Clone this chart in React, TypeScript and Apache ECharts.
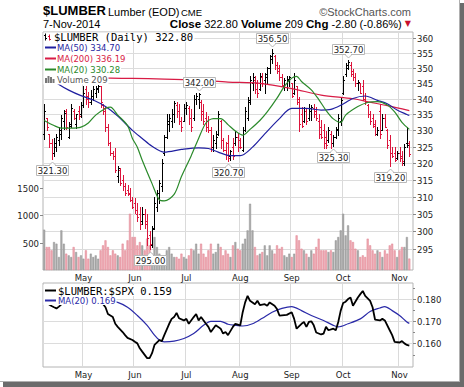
import React, { useEffect, useRef } from 'react';
import * as echarts from 'echarts';

// ---------------- data ----------------
const HOLIDAYS = ['2014-04-18', '2014-05-26', '2014-07-04', '2014-09-01'];
const MONTHS = ['Jan', 'Feb', 'Mar', 'Apr', 'May', 'Jun', 'Jul', 'Aug', 'Sep', 'Oct', 'Nov', 'Dec'];

function tradingDays(start: string, end: string): string[] {
  const out: string[] = [];
  const d = new Date(start + 'T00:00:00Z');
  const e = new Date(end + 'T00:00:00Z');
  while (d <= e) {
    const wd = d.getUTCDay();
    const s = d.toISOString().slice(0, 10);
    if (wd !== 0 && wd !== 6 && HOLIDAYS.indexOf(s) < 0) out.push(s);
    d.setUTCDate(d.getUTCDate() + 1);
  }
  return out;
}
const dates = tradingDays('2014-04-08', '2014-11-07');
const categories = [...dates, ''];

const opens = [
  329, 334, 329, 326, 323, 325, 327, 329, 333, 336,
  328, 332, 336, 332, 336, 335, 338, 343, 341, 339,
  340, 342, 343, 344, 338, 337, 331, 326, 323, 322,
  316, 318, 315, 313, 312, 311, 309, 308, 305, 305,
  303, 305, 303, 299, 296, 301, 307, 311, 313, 323,
  328, 332, 333, 335, 338, 336, 333, 333, 337, 337,
  334, 334, 340, 340, 339, 336, 334, 333, 330, 325,
  326, 329, 333, 327, 324, 326, 322, 325, 326, 328,
  327, 324, 330, 334, 339, 345, 346, 345, 343, 347,
  346, 347, 350, 353, 354, 351, 350, 347, 344, 345,
  346, 345, 342, 344, 340, 335, 333, 336, 334, 336,
  337, 336, 333, 331, 330, 328, 327, 329, 326, 328,
  330, 333, 342, 348, 350, 351, 349, 347, 345, 345,
  344, 340, 338, 335, 334, 332, 329, 336, 330, 334,
  330, 327, 323, 323, 321.5, 323, 322, 320, 326, 326,
];
const highs = [
  338.3, 334, 329, 327.4, 327.5, 329, 331, 334.8, 336.4, 336.7,
  332.5, 338.4, 336.7, 335.2, 337.8, 339, 344, 344, 342.3, 342.9,
  344, 344, 344.5, 344, 338.4, 337.3, 332, 326.5, 323.6, 324.6,
  319, 318.5, 316.3, 313.9, 313.4, 312.5, 310, 309.6, 308, 307,
  307, 306.5, 305, 300, 301.4, 310, 312, 314.9, 321.1, 328.7,
  335, 335.2, 336.7, 339.4, 339, 338.4, 334.2, 338.4, 339, 337.8,
  336.7, 341.2, 341.8, 342, 339.5, 338.4, 335.7, 334.5, 331, 328.6,
  329.8, 336.2, 333.1, 327.5, 326.5, 328.6, 324, 327.5, 329.8, 329.2,
  327.5, 331, 337.3, 340.6, 347.3, 348.5, 347.3, 346.1, 348.5, 348.5,
  348.5, 350.4, 354.5, 356.5, 354.5, 352, 350.9, 347.9, 346.7, 347.3,
  347.3, 345, 348.5, 344, 340.6, 337.3, 337.3, 336.7, 338.4, 338,
  338.4, 337.3, 335.1, 333.1, 332, 329.8, 331, 329.8, 328.6, 331,
  335.1, 340.6, 347.3, 351.8, 352.7, 352, 349.6, 348.5, 346.1, 345,
  346.1, 341.8, 338.4, 336.2, 335.1, 333.1, 331, 338.4, 335.1, 335.1,
  330.5, 328.6, 324.7, 324.7, 323.6, 324.7, 323.6, 325.7, 331, 326.7,
];
const lows = [
  327.3, 330, 325, 321.3, 322, 323.5, 325.4, 327.4, 330.5, 330.3,
  327.5, 331, 333.6, 330.8, 333.6, 334.2, 337.3, 338.4, 337.3, 338.4,
  339.5, 340.6, 342.3, 337.3, 335.1, 329.8, 325.4, 322.4, 321.3, 317.3,
  314.4, 313.4, 312, 310.5, 310.5, 308.6, 306.7, 305.2, 303, 300.7,
  302, 301, 296, 295, 295.5, 300.7, 305.7, 308.2, 311.5, 322.5,
  327.5, 329.8, 331, 332.7, 334.2, 332, 329.8, 332.8, 335.1, 332,
  329.8, 333.1, 338.4, 337, 333.1, 332, 329.8, 329.5, 323.5, 323.5,
  324.6, 328.6, 324.6, 323.5, 321.3, 320.7, 320.8, 321.3, 325.4, 323.5,
  324.6, 323.5, 329.8, 333.1, 338.4, 342.9, 341.8, 340.6, 342.9, 344,
  341.8, 345.2, 348.5, 351.8, 349.6, 348.5, 346.1, 344, 342.9, 342.9,
  344, 340.6, 341.5, 338.4, 329.8, 331, 332.5, 332, 333.1, 333.1,
  334.2, 333.1, 327.5, 327.5, 324.6, 324.6, 326.5, 324.6, 325.3, 327.5,
  328.6, 331.6, 341.5, 347.5, 349.6, 347.3, 346.1, 344, 342.9, 341.8,
  339.5, 338.4, 334.2, 332, 330.9, 328.6, 328.6, 327.5, 330, 330.9,
  324.6, 319.2, 321.8, 320.5, 321.3, 320.5, 319.4, 319.3, 324.7, 322,
];
const closes = [
  336, 331, 326, 323, 326, 328, 330, 334, 335.5, 331,
  331.5, 337, 334, 335, 334.5, 338, 342, 340, 339, 341,
  343, 343.5, 344, 339, 336, 331, 326, 323, 322, 318,
  318.6, 314, 313, 311, 310.7, 309, 307, 306, 304, 302,
  305, 302, 298, 296.5, 300.5, 308, 311, 314, 320, 328,
  333, 334, 335, 338.5, 336, 333, 331, 337, 338, 334,
  331, 340, 341, 341.5, 335, 333, 331, 330, 325, 327,
  328, 335, 327, 324, 322.5, 321.5, 323.5, 322, 328, 325,
  324.7, 330, 336, 339.5, 346, 347, 343, 342, 347.5, 345,
  348, 350, 354, 355, 351, 349, 347, 344.5, 346, 346.5,
  347, 341, 346, 339, 332, 331.5, 336, 333, 337, 337.5,
  335, 334, 329, 328, 326, 325.5, 330, 326, 328, 330.5,
  334, 339.5, 346, 351, 352, 348, 347, 345, 345.5, 342,
  340, 339, 335, 333, 331.5, 329, 330, 329, 334, 331,
  325.5, 323, 322, 321, 323, 321.5, 320.5, 325, 325.6, 322.8,
];
const volumes = [
  738, 421, 421, 360, 512, 482, 238, 726, 482, 299,
  268, 238, 421, 329, 238, 268, 207, 360, 207, 299,
  238, 268, 207, 360, 451, 543, 421, 268, 360, 299,
  268, 238, 482, 360, 543, 1031, 604, 604, 451, 512,
  451, 360, 575, 451, 299, 604, 421, 299, 268, 207,
  360, 421, 299, 238, 238, 207, 299, 238, 207, 268,
  390, 360, 482, 299, 482, 299, 238, 360, 482, 299,
  329, 482, 421, 268, 360, 299, 238, 451, 512, 390,
  360, 482, 573, 726, 1214, 726, 421, 268, 299, 329,
  451, 268, 451, 360, 299, 451, 390, 421, 268, 238,
  299, 238, 299, 634, 543, 390, 360, 299, 238, 360,
  299, 421, 573, 360, 360, 360, 329, 360, 329, 543,
  604, 726, 1031, 634, 817, 543, 512, 390, 360, 238,
  268, 238, 573, 451, 360, 299, 360, 329, 238, 360,
  299, 451, 482, 360, 238, 360, 421, 421, 604, 209,
];

// moving averages: [bar index, value]
const ma50 = [
  [0, 348.2], [3, 346.6], [6, 344.6], [10, 342.8], [15, 341], [20, 339.6], [25, 337.5], [30, 334.5], [36, 330],
  [40, 327.5], [44, 325.1], [49, 323.3], [56, 324.1], [63, 324.6], [67, 324.4], [71, 323.3],
  [75, 322.3], [80, 322.2], [85, 324.8], [90, 328.9], [96, 333.7], [101, 336.9], [107, 336.9],
  [113, 336.4], [117, 336.6], [121, 337.9], [126, 340.1], [131, 340.9], [136, 339.5], [140, 338.4],
  [144, 336.4], [148, 335], [149, 334.7],
];
const ma200 = [
  [0, 347.2], [10, 347], [20, 346.8], [27, 346.7], [36, 346.6], [49, 346.4], [63, 346], [75, 345.4],
  [88, 345], [101, 343.3], [113, 341.2], [126, 340], [133, 338.9], [140, 337.8], [149, 336.2],
];
const ma20 = [
  [0, 333.1], [4, 331.5], [7, 330.7], [11, 330.7], [15, 331], [18, 332.3], [21, 334.8], [25, 336.9],
  [27, 337.3], [30, 334.8], [34, 331.5], [36, 327.5], [38, 324.8], [40, 320.8], [44, 313.8], [47, 309],
  [49, 308.7], [53, 310.6], [56, 315.9], [60, 322.2], [63, 327.5], [66, 332.3], [69, 333.7], [72, 333.7],
  [75, 331.8], [78, 329.8], [81, 328.5], [84, 330.3], [88, 333.1], [91, 335.8], [95, 340.2], [98, 344],
  [101, 346.7], [103, 347.3], [105, 345.6], [109, 342.9], [112, 339.8], [115, 336.3], [118, 333.6],
  [121, 332.5], [123, 334.8], [128, 337.5], [132, 338.8], [136, 339.1], [140, 338], [143, 335.8],
  [146, 332.5], [149, 330.3],
];
const ratio = [
  [0, 0.1785], [2, 0.1775], [3, 0.1768], [4, 0.1762], [5, 0.1757], [6, 0.1765], [8, 0.1785],
  [11, 0.179], [14, 0.1805], [17, 0.182], [20, 0.1815], [23, 0.179], [25, 0.1762], [26, 0.1732],
  [28, 0.1718], [29, 0.1688], [30, 0.1674], [32, 0.1651], [33, 0.1637], [34, 0.1625], [36, 0.1615],
  [37, 0.1607], [38, 0.16], [39, 0.1578], [40, 0.1563], [42, 0.1534], [43, 0.1534], [44, 0.1556],
  [45, 0.1593], [47, 0.1615], [48, 0.161], [49, 0.1637], [51, 0.1688], [52, 0.171], [53, 0.1718],
  [54, 0.1737], [55, 0.1713], [57, 0.1703], [58, 0.171], [59, 0.1688], [61, 0.1718], [62, 0.1732],
  [63, 0.1703], [64, 0.1718], [66, 0.1688], [67, 0.1674], [68, 0.1651], [70, 0.1681], [71, 0.1674],
  [72, 0.1666], [73, 0.1644], [74, 0.1651], [75, 0.1637], [77, 0.1674], [78, 0.1688], [80, 0.1681],
  [81, 0.174], [82, 0.1784], [83, 0.1813], [84, 0.1791], [86, 0.1776], [87, 0.1791], [88, 0.1772],
  [90, 0.1776], [91, 0.1769], [92, 0.1784], [94, 0.1769], [95, 0.1754], [96, 0.1725], [99, 0.1728],
  [101, 0.174], [102, 0.171], [103, 0.1666], [105, 0.1688], [106, 0.1696], [107, 0.1674], [108, 0.1696],
  [109, 0.1699], [110, 0.1681], [111, 0.1649], [113, 0.164], [114, 0.1644], [115, 0.1674], [116, 0.1659],
  [118, 0.1666], [119, 0.1659], [120, 0.1696], [121, 0.1747], [122, 0.1781], [123, 0.1787], [124, 0.1799],
  [125, 0.1806], [126, 0.1769], [128, 0.1806], [129, 0.1821], [130, 0.1835], [131, 0.1813], [133, 0.1791],
  [134, 0.1762], [135, 0.1707], [137, 0.1703], [138, 0.171], [139, 0.1703], [141, 0.1659], [142, 0.1637],
  [143, 0.1607], [145, 0.1604], [146, 0.161], [147, 0.16], [148, 0.1593], [149, 0.159],
];
const ratioMa20 = [
  [0, 0.179], [10, 0.1795], [20, 0.1793], [26, 0.179], [30, 0.1784], [34, 0.1762], [38, 0.1725],
  [42, 0.1681], [45, 0.1637], [47, 0.1615], [49, 0.1607], [53, 0.161], [57, 0.1622], [61, 0.1644],
  [65, 0.1681], [68, 0.1699], [72, 0.1699], [75, 0.1686], [78, 0.1681], [81, 0.1678], [85, 0.1688],
  [89, 0.1713], [93, 0.174], [97, 0.1757], [101, 0.1765], [105, 0.1747], [109, 0.1725], [114, 0.1703],
  [118, 0.1681], [120, 0.1674], [124, 0.1688], [129, 0.171], [133, 0.1743], [137, 0.1759], [139, 0.1765],
  [142, 0.1747], [145, 0.1725], [148, 0.1696], [149, 0.169],
];

const priceTicks = [295, 300, 305, 310, 315, 320, 325, 330, 335, 340, 345, 350, 355, 360];
const volumeTicks = [500, 1000, 1500];
const ratioTicks = [0.155, 0.16, 0.165, 0.17, 0.175, 0.18, 0.185];
const ratioLabelTicks = [0.16, 0.17, 0.18];
const annotations: [number, string][] = [
  [3, 'low'], [43, 'low'], [63, 'high'], [75, 'low'], [93, 'high'], [118, 'low'], [124, 'high'], [141, 'low'],
];

// ---------------- style ----------------
const UP = '#000000';
const DOWN = '#dc143c';
const C_MA50 = '#1f1fa0';
const C_MA200 = '#d81b45';
const C_MA20 = '#2b8a2b';
const C_RMA = '#2a2aa8';
const SANS = '"DejaVu Sans"';
const MONO = '"DejaVu Sans Mono"';
const ARIAL = '"Liberation Sans"';

const isUp = (i: number) => i === 0 || closes[i] >= closes[i - 1];
const isMonthStart = (idx: number) =>
  idx > 0 && idx < dates.length && dates[idx].slice(5, 7) !== dates[idx - 1].slice(5, 7);

function ts(text: string, x: number, y: number, font: string, fill: string, align = 'left') {
  return {
    text, x, y, font, fill,
    align, verticalAlign: 'middle', textAlign: align, textVerticalAlign: 'middle',
  };
}

function mkX(gi: number) {
  return {
    type: 'category', gridIndex: gi, data: categories, boundaryGap: true,
    axisLine: { show: false }, axisTick: { show: false },
    axisLabel: {
      interval: (idx: number) => isMonthStart(idx),
      formatter: (v: string) => (v ? MONTHS[+v.slice(5, 7) - 1] : ''),
      margin: 3, fontFamily: SANS, fontSize: 8.5, color: '#222',
    },
    splitLine: {
      show: true, interval: (idx: number) => isMonthStart(idx),
      lineStyle: { color: '#dadada', width: 1 },
    },
  };
}

function legendRow(y: number, right: number, dashColor: string, text: string, color: string) {
  return [
    { type: 'rect', z: 100, shape: { x: 43.5, y: y - 5.5, width: right - 43.5, height: 11 }, style: { fill: '#fff' } },
    { type: 'line', z: 101, shape: { x1: 45, y1: y, x2: 56, y2: y }, style: { stroke: dashColor, lineWidth: 2 } },
    { type: 'text', z: 101, style: ts(text, 57, y, `8.5px ${SANS}`, color) },
  ];
}

function buildOption(): any {
  const gridStyle = { show: true, borderColor: '#b4b4b4', borderWidth: 1 };
  const ohlcData = closes.map((c, i) => [i, opens[i], c, lows[i], highs[i]]);
  const annData = annotations.map(([i, k]) => [i, k === 'high' ? highs[i] : lows[i], k === 'high' ? 0 : 1]);

  const graphic: any[] = [
    // frame shadow
    { type: 'rect', z: 0, shape: { x: 460, y: 3, width: 4, height: 383 }, style: { fill: '#6b6b6b' } },
    { type: 'rect', z: 0, shape: { x: 3, y: 382, width: 461, height: 5 }, style: { fill: '#6b6b6b' } },
    { type: 'line', z: 0, shape: { x1: 459.5, y1: 0, x2: 459.5, y2: 382 }, style: { stroke: '#b0b0b0', lineWidth: 1 } },
    { type: 'line', z: 0, shape: { x1: 0, y1: 381.5, x2: 460, y2: 381.5 }, style: { stroke: '#b0b0b0', lineWidth: 1 } },
    // header
    { type: 'text', z: 100, style: ts('$LUMBER', 43, 10.5, `bold 13px ${ARIAL}`, '#000') },
    { type: 'text', z: 100, style: ts('Lumber (EOD)', 108, 11.5, `11px ${ARIAL}`, '#000') },
    { type: 'text', z: 100, style: ts('CME', 181, 12, `9.5px ${ARIAL}`, '#000') },
    { type: 'text', z: 100, style: ts('\u00A9StockCharts.com', 411, 11.5, `11px ${ARIAL}`, '#555', 'right') },
    { type: 'text', z: 100, style: ts('7-Nov-2014', 43, 23.5, `11px ${ARIAL}`, '#000') },
    {
      type: 'text', z: 100,
      style: {
        ...ts('{b|Close} 322.80 {b|Volume} 209 {b|Chg} -2.80 (-0.86%) {t|\u25BC}', 411, 23.5, `11px ${ARIAL}`, '#000', 'right'),
        rich: {
          b: { font: `bold 11.5px ${ARIAL}`, fill: '#000' },
          t: { font: `8px ${SANS}`, fill: '#c8102e' },
        },
      },
    },
    // main legend row 1
    { type: 'rect', z: 100, shape: { x: 43.5, y: 32.5, width: 151, height: 9.5 }, style: { fill: '#fff' } },
    { type: 'line', z: 101, shape: { x1: 45.5, y1: 33.5, x2: 45.5, y2: 40.5 }, style: { stroke: UP, lineWidth: 1 } },
    { type: 'line', z: 101, shape: { x1: 44, y1: 35.5, x2: 45.5, y2: 35.5 }, style: { stroke: UP, lineWidth: 1 } },
    { type: 'line', z: 101, shape: { x1: 45.5, y1: 38.5, x2: 47, y2: 38.5 }, style: { stroke: UP, lineWidth: 1 } },
    { type: 'line', z: 101, shape: { x1: 49.5, y1: 34.5, x2: 49.5, y2: 40.5 }, style: { stroke: DOWN, lineWidth: 1 } },
    { type: 'line', z: 101, shape: { x1: 48, y1: 36.5, x2: 49.5, y2: 36.5 }, style: { stroke: DOWN, lineWidth: 1 } },
    { type: 'line', z: 101, shape: { x1: 49.5, y1: 39.5, x2: 51, y2: 39.5 }, style: { stroke: DOWN, lineWidth: 1 } },
    { type: 'text', z: 101, style: ts('$LUMBER (Daily) 322.80', 54, 37, `10.5px ${MONO}`, '#000') },
    ...legendRow(47.5, 121, C_MA50, 'MA(50) 334.70', C_MA50),
    ...legendRow(58.5, 126, C_MA200, 'MA(200) 336.19', C_MA200),
    ...legendRow(69.5, 121, C_MA20, 'MA(20) 330.28', C_MA20),
    { type: 'rect', z: 100, shape: { x: 43.5, y: 75, width: 65, height: 9.5 }, style: { fill: '#fff' } },
    { type: 'rect', z: 101, shape: { x: 45, y: 78, width: 2, height: 5 }, style: { fill: '#777' } },
    { type: 'rect', z: 101, shape: { x: 47.5, y: 76, width: 2, height: 7 }, style: { fill: '#777' } },
    { type: 'rect', z: 101, shape: { x: 50, y: 77, width: 2, height: 6 }, style: { fill: '#777' } },
    { type: 'rect', z: 101, shape: { x: 52.5, y: 79, width: 2, height: 4 }, style: { fill: '#777' } },
    { type: 'text', z: 101, style: ts('Volume 209', 57, 79.5, `8.5px ${SANS}`, '#555') },
    // lower legend
    { type: 'rect', z: 100, shape: { x: 43.5, y: 285, width: 133, height: 11 }, style: { fill: '#fff' } },
    { type: 'line', z: 101, shape: { x1: 45, y1: 290.5, x2: 56, y2: 290.5 }, style: { stroke: '#000', lineWidth: 2 } },
    { type: 'text', z: 101, style: ts('$LUMBER:$SPX 0.159', 58, 291, `10.5px ${MONO}`, '#000') },
    { type: 'rect', z: 100, shape: { x: 43.5, y: 296, width: 73, height: 9 }, style: { fill: '#fff' } },
    { type: 'line', z: 101, shape: { x1: 45, y1: 300.5, x2: 56, y2: 300.5 }, style: { stroke: C_RMA, lineWidth: 2 } },
    { type: 'text', z: 101, style: ts('MA(20) 0.169', 58, 300.5, `8.5px ${SANS}`, C_RMA) },
  ];

  return {
    animation: false,
    backgroundColor: '#fff',
    grid: [
      { left: 43, top: 32, width: 370, height: 238, ...gridStyle },
      { left: 43, top: 283, width: 370, height: 84, ...gridStyle },
    ],
    xAxis: [mkX(0), mkX(1)],
    yAxis: [
      { type: 'log', gridIndex: 0, min: 289.2, max: 362.15, show: false },
      { type: 'value', gridIndex: 0, min: 0, max: 4360, show: false },
      { type: 'value', gridIndex: 1, min: 0.1494, max: 0.1871, show: false },
    ],
    graphic: { elements: graphic },
    series: [
      {
        type: 'custom', name: 'priceScale', xAxisIndex: 0, yAxisIndex: 0, z: 1, silent: true,
        data: priceTicks.map((v) => [0, v]), encode: { x: 0, y: 1 },
        renderItem: (params: any, api: any) => {
          const cs = params.coordSys;
          const v = api.value(1);
          const y = Math.round(api.coord([0, v])[1]) + 0.5;
          const r = cs.x + cs.width;
          return {
            type: 'group', children: [
              { type: 'line', shape: { x1: cs.x, y1: y, x2: r, y2: y }, style: { stroke: '#dcdcdc', lineWidth: 1 } },
              { type: 'line', shape: { x1: r, y1: y, x2: r + 3, y2: y }, style: { stroke: '#888', lineWidth: 1 } },
              { type: 'text', style: ts(String(v), r + 4, y, `8.5px ${SANS}`, '#222') },
            ],
          };
        },
      },
      {
        type: 'custom', name: 'volumeScale', xAxisIndex: 0, yAxisIndex: 1, z: 1, silent: true,
        data: volumeTicks.map((v) => [0, v]), encode: { x: 0, y: 1 },
        renderItem: (params: any, api: any) => {
          const cs = params.coordSys;
          const v = api.value(1);
          const y = Math.round(api.coord([0, v])[1]) + 0.5;
          return {
            type: 'group', children: [
              { type: 'line', shape: { x1: cs.x - 3, y1: y, x2: cs.x, y2: y }, style: { stroke: '#888', lineWidth: 1 } },
              { type: 'text', style: ts(String(v), cs.x - 4, y, `8.5px ${SANS}`, '#222', 'right') },
            ],
          };
        },
      },
      {
        type: 'bar', name: 'Volume', xAxisIndex: 0, yAxisIndex: 1, z: 2, barWidth: 2, silent: true,
        data: volumes.map((v, i) => ({
          value: v,
          itemStyle: isUp(i)
            ? { color: '#ababab', borderColor: '#8c8c8c', borderWidth: 0.4 }
            : { color: '#efaab4', borderColor: '#dc7483', borderWidth: 0.4 },
        })),
      },
      {
        type: 'custom', name: '$LUMBER', xAxisIndex: 0, yAxisIndex: 0, z: 3, silent: true,
        data: ohlcData, encode: { x: 0, y: [1, 2, 3, 4] },
        renderItem: (params: any, api: any) => {
          const i = api.value(0);
          const o = api.coord([i, api.value(1)]);
          const c = api.coord([i, api.value(2)]);
          const l = api.coord([i, api.value(3)]);
          const h = api.coord([i, api.value(4)]);
          const x = Math.round(h[0]) + 0.5;
          const color = isUp(i) ? UP : DOWN;
          const st = { stroke: color, lineWidth: 1 };
          const oy = Math.round(o[1]) + 0.5;
          const cy = Math.round(c[1]) + 0.5;
          return {
            type: 'group', children: [
              { type: 'line', shape: { x1: x, y1: Math.round(h[1]), x2: x, y2: Math.round(l[1]) + 1 }, style: st },
              { type: 'line', shape: { x1: x - 1.5, y1: oy, x2: x, y2: oy }, style: st },
              { type: 'line', shape: { x1: x, y1: cy, x2: x + 1.5, y2: cy }, style: st },
            ],
          };
        },
      },
      {
        type: 'line', name: 'MA(200)', xAxisIndex: 0, yAxisIndex: 0, z: 4, data: ma200, showSymbol: false,
        smooth: 0.3, lineStyle: { color: C_MA200, width: 1.2 }, silent: true,
      },
      {
        type: 'line', name: 'MA(50)', xAxisIndex: 0, yAxisIndex: 0, z: 4, data: ma50, showSymbol: false,
        smooth: 0.3, lineStyle: { color: C_MA50, width: 1.2 }, silent: true,
      },
      {
        type: 'line', name: 'MA(20)', xAxisIndex: 0, yAxisIndex: 0, z: 4, data: ma20, showSymbol: false,
        smooth: 0.3, lineStyle: { color: C_MA20, width: 1.2 }, silent: true,
      },
      {
        type: 'custom', name: 'annotations', xAxisIndex: 0, yAxisIndex: 0, z: 10, silent: true,
        data: annData, encode: { x: 0, y: 1 },
        renderItem: (params: any, api: any) => {
          const i = api.value(0);
          const v = api.value(1);
          const below = api.value(2) === 1;
          const p = api.coord([i, v]);
          const cx = Math.round(p[0]) + 0.5;
          const w = 32;
          const hh = 10;
          const top = below ? Math.round(p[1] + 6) + 0.5 : Math.round(p[1] - 6 - hh) + 0.5;
          const base = below ? top : top + hh;
          const tip = below ? top - 3.5 : top + hh + 3.5;
          return {
            type: 'group', children: [
              { type: 'rect', shape: { x: cx - w / 2, y: top, width: w, height: hh }, style: { fill: '#fff', stroke: '#b8b8b8', lineWidth: 1 } },
              { type: 'polygon', shape: { points: [[cx - 3.5, base], [cx, tip], [cx + 3.5, base]] }, style: { fill: '#fff', stroke: '#b8b8b8', lineWidth: 1 } },
              { type: 'line', shape: { x1: cx - 2.5, y1: base, x2: cx + 2.5, y2: base }, style: { stroke: '#fff', lineWidth: 1.2 } },
              { type: 'text', style: ts(v.toFixed(2), cx, top + hh / 2 + 0.5, `8.5px ${SANS}`, '#222', 'center') },
            ],
          };
        },
      },
      {
        type: 'custom', name: 'ratioScale', xAxisIndex: 1, yAxisIndex: 2, z: 1, silent: true,
        data: ratioTicks.map((v) => [0, v]), encode: { x: 0, y: 1 },
        renderItem: (params: any, api: any) => {
          const cs = params.coordSys;
          const v = api.value(1);
          const y = Math.round(api.coord([0, v])[1]) + 0.5;
          const r = cs.x + cs.width;
          const major = ratioLabelTicks.some((t) => Math.abs(t - v) < 1e-6);
          const children: any[] = [
            { type: 'line', shape: { x1: r, y1: y, x2: r + (major ? 3 : 2), y2: y }, style: { stroke: '#888', lineWidth: 1 } },
          ];
          if (major) {
            children.push({ type: 'line', shape: { x1: cs.x, y1: y, x2: r, y2: y }, style: { stroke: '#dcdcdc', lineWidth: 1 } });
            children.push({ type: 'text', style: ts(v.toFixed(3), r + 4, y, `8.5px ${SANS}`, '#222') });
          }
          return { type: 'group', children };
        },
      },
      {
        type: 'line', name: 'MA(20) ratio', xAxisIndex: 1, yAxisIndex: 2, z: 4, data: ratioMa20, showSymbol: false,
        smooth: 0.3, lineStyle: { color: C_RMA, width: 1.2 }, silent: true,
      },
      {
        type: 'line', name: '$LUMBER:$SPX', xAxisIndex: 1, yAxisIndex: 2, z: 5, data: ratio, showSymbol: false,
        lineStyle: { color: '#000', width: 1.8 }, silent: true,
      },
    ],
  };
}

export default function App() {
  const ref = useRef<HTMLDivElement>(null);
  useEffect(() => {
    if (!ref.current) return;
    const chart = echarts.init(ref.current, null, { renderer: 'svg' });
    chart.setOption(buildOption());
    return () => chart.dispose();
  }, []);
  return (
    <div
      ref={ref}
      style={{ position: 'absolute', left: 0, top: 0, width: 464, height: 387, background: '#fff' }}
    />
  );
}
